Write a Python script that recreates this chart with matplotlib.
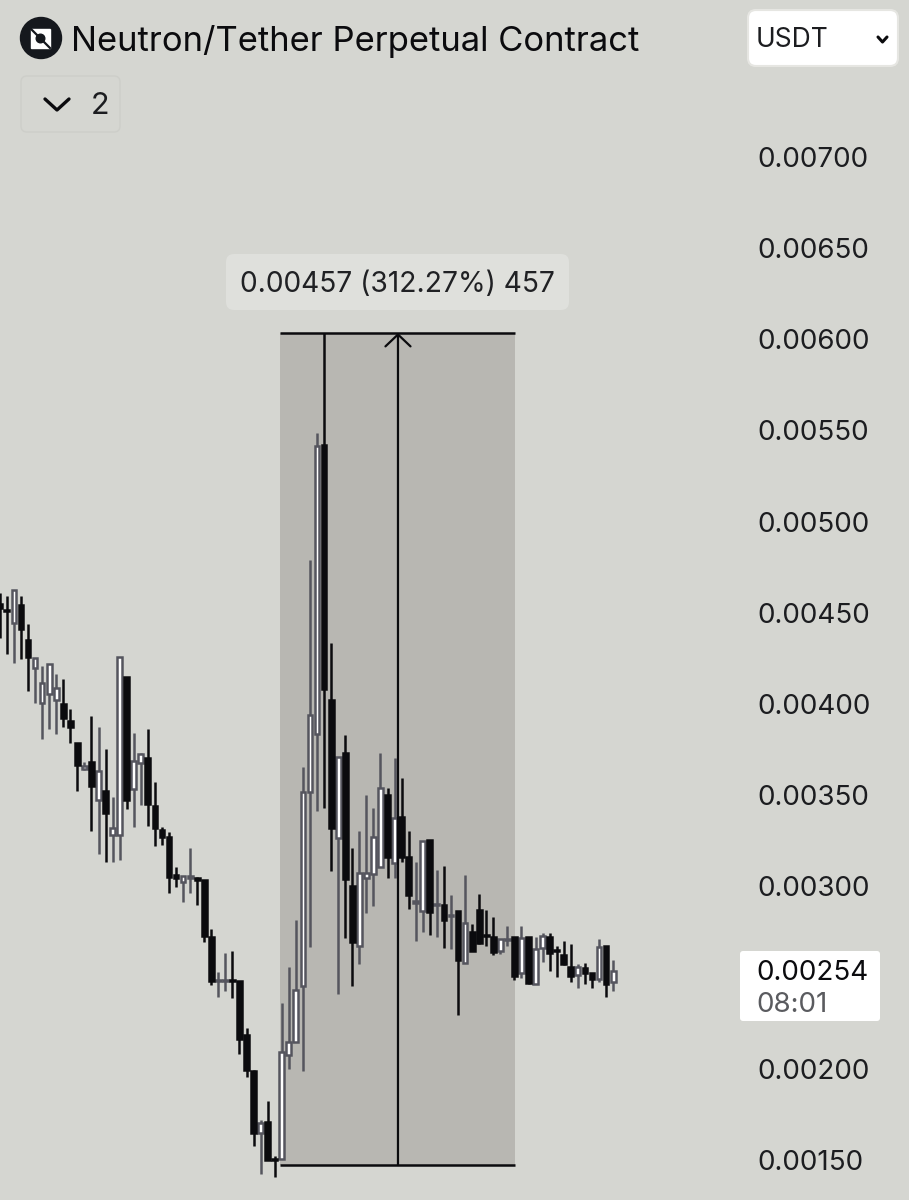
#!/usr/bin/env python

import numpy as np
import matplotlib
matplotlib.use("Agg")
import matplotlib.pyplot as plt
from matplotlib.patches import Circle, FancyBboxPatch, Polygon

# prices, in millionths of a USDT
open_ = [4548, 4515, 4444, 4543, 4351, 4197, 4005, 4055, 4022, 4000, 3907, 3786, 3643, 3682, 3474, 3523, 3282, 3282, 4148, 3534, 3676, 3704,
         3441, 3309, 3271, 3062, 3024, 3046, 3046, 3035, 2722, 2481, 2481, 2487, 2481, 2185, 1988, 1648, 1708, 1505, 1505, 2076, 2147, 2454,
         3517, 3835, 5420, 4022, 3265, 3731, 3002, 2673, 3046, 3068, 3106, 3501, 3128, 3380, 3161, 2909, 2865, 3254, 2898, 2898, 2838, 2865,
         2580, 2750, 2871, 2733, 2722, 2646, 2706, 2722, 2525, 2722, 2465, 2662, 2722, 2651, 2624, 2558, 2514, 2553, 2525, 2492, 2673, 2476]
close = [4526, 4510, 4625, 4411, 4257, 4252, 4115, 4219, 4088, 3923, 3874, 3665, 3660, 3550, 3632, 3402, 3320, 4257, 3474, 3687, 3726, 3452,
         3320, 3271, 3051, 3046, 3057, 3057, 3035, 2728, 2481, 2487, 2487, 2481, 2163, 1993, 1648, 1703, 1500, 1503, 2092, 2147, 2432, 3517,
         3939, 5414, 4082, 3320, 3709, 3040, 2695, 3073, 3073, 3271, 3539, 3161, 3375, 3161, 2953, 2920, 3249, 2860, 2903, 2816, 2843, 2596,
         2799, 2646, 2690, 2728, 2640, 2712, 2712, 2509, 2717, 2470, 2657, 2728, 2635, 2646, 2574, 2509, 2558, 2525, 2492, 2668, 2465, 2536]
high = [4608, 4592, 4625, 4592, 4438, 4252, 4208, 4219, 4164, 4137, 3972, 3786, 3682, 3934, 3874, 3753, 3490, 4257, 4148, 3841, 3731, 3863,
        3572, 3326, 3298, 3106, 3057, 3210, 3051, 3035, 2766, 2531, 2635, 2646, 2481, 2224, 1993, 1719, 1823, 1522, 2361, 2558, 2816, 3654,
        4789, 5485, 6034, 4334, 3709, 3830, 3210, 3304, 3501, 3430, 3731, 3539, 3704, 3594, 3304, 3134, 3249, 3254, 3090, 3112, 2953, 2865,
        3062, 2794, 2958, 2871, 2832, 2712, 2783, 2722, 2783, 2722, 2722, 2744, 2744, 2673, 2701, 2684, 2574, 2580, 2525, 2712, 2673, 2596]
low = [4362, 4274, 4225, 4246, 4071, 4005, 3808, 3863, 3835, 3874, 3786, 3523, 3638, 3304, 3177, 3134, 3134, 3145, 3424, 3326, 3446, 3331,
       3221, 3227, 2964, 2997, 2914, 2964, 2898, 2695, 2459, 2394, 2426, 2388, 2081, 1955, 1577, 1423, 1500, 1407, 1505, 1999, 2147, 1988,
       2668, 3413, 3430, 3084, 2410, 2717, 2454, 2574, 2854, 2892, 3106, 3046, 3046, 3134, 2876, 2701, 2750, 2733, 2722, 2662, 2657, 2295,
       2580, 2646, 2684, 2673, 2624, 2629, 2673, 2487, 2498, 2465, 2465, 2585, 2536, 2503, 2569, 2476, 2443, 2465, 2443, 2476, 2394, 2426]

tick_values = [0.0015, 0.002, 0.003, 0.0035, 0.004, 0.0045, 0.005, 0.0055, 0.006, 0.0065, 0.007]
tick_labels = ["0.00150", "0.00200", "0.00300", "0.00350", "0.00400", "0.00450", "0.00500", "0.00550", "0.00600", "0.00650", "0.00700"]

range_low = 0.001473
range_high = 0.006034
range_start = 39.75
range_end = 73.08
range_mid = 56.48

title = "Neutron/Tether Perpetual Contract"
range_label = "0.00457 (312.27%) 457"
last_price = "0.00254"
countdown = "08:01"

BG = "#d5d6d1"
RANGE_FILL = "#b8b7b2"
UP_EDGE = "#55555e"
DARK = "#0b0b0e"

plt.rcParams["font.family"] = ["Inter", "DejaVu Sans"]

fig = plt.figure(figsize=(9.09, 12), dpi=100, facecolor=BG)

# chart area stops where the price labels start
ax = fig.add_axes([0, 0, 748 / 909, 1], facecolor=BG)
ax.set_xlim(0.028, 106.13)
ax.set_ylim(0.001281, 0.007859)
for s in ax.spines.values():
    s.set_visible(False)
ax.set_xticks([])
ax.yaxis.tick_right()
ax.set_yticks(tick_values)
ax.set_yticklabels(tick_labels)
ax.tick_params(axis="y", length=0, pad=7, labelsize=20, labelcolor="#1c1d20")

o = np.array(open_) * 1e-6
c = np.array(close) * 1e-6
h = np.array(high) * 1e-6
l = np.array(low) * 1e-6
x = np.arange(len(o))
up = c >= o

ax.fill_between([range_start, range_end], range_low, range_high, color=RANGE_FILL, lw=0, zorder=1)

ax.vlines(x[up], l[up], h[up], color=UP_EDGE, lw=1.8, zorder=2)
ax.vlines(x[~up], l[~up], h[~up], color=DARK, lw=1.8, zorder=2)
ax.bar(x[up], (c - o)[up], bottom=o[up], width=0.68, facecolor="white", edgecolor=UP_EDGE, lw=1.8, zorder=3)
ax.bar(x[~up], (o - c)[~up], bottom=c[~up], width=0.68, facecolor=DARK, edgecolor=DARK, lw=1.8, zorder=3)

ax.hlines([range_low, range_high], range_start, range_end, color=DARK, lw=1.8, zorder=4)
ax.annotate("", xy=(range_mid, range_high), xytext=(range_mid, range_low), zorder=4,
            arrowprops=dict(arrowstyle="->,head_length=0.39,head_width=0.41", color=DARK, lw=1.6,
                            shrinkA=0, shrinkB=0, mutation_scale=22))

# everything that is not the chart, placed in pixels
ui = fig.add_axes([0, 0, 1, 1])
ui.set_xlim(0, 909)
ui.set_ylim(1200, 0)
ui.axis("off")


def box(x0, y0, x1, y1, face, edge="none", r=6, lw=1):
    ui.add_patch(FancyBboxPatch((x0 + r, y0 + r), x1 - x0 - 2 * r, y1 - y0 - 2 * r,
                                boxstyle="round,pad=%d,rounding_size=%d" % (r, r),
                                facecolor=face, edgecolor=edge, lw=lw))


# logo
ui.add_patch(Circle((41, 38), 20.5, color="#15181d"))
ui.add_patch(Polygon([(31, 29), (50, 29), (50, 48), (31, 48)], color="white"))
ui.plot([31, 50], [29, 48], color="#15181d", lw=1.6)
ui.add_patch(Circle((40.5, 38.5), 4.3, color="#15181d"))

ui.text(71, 41, title, fontsize=24.9, color=DARK, va="center", ha="left")

box(21, 76, 120, 132, "none", edge="#cdcec9")
ui.plot([45, 57, 69], [99, 110, 99], color=DARK, lw=2.4, solid_capstyle="round", solid_joinstyle="round")
ui.text(100, 106, "2", fontsize=22, color="#1c1d20", va="center", ha="center")

box(748, 10, 898, 66, "white", edge="#e6e6e2", r=8, lw=1.5)
ui.text(756, 40, "USDT", fontsize=19, color="#1c1d20", va="center", ha="left")
ui.plot([878, 882.5, 887], [37, 42, 37], color=DARK, lw=2.2, solid_capstyle="round", solid_joinstyle="round")

box(226, 254, 569, 310, "#dfe0dc", r=8)
ui.text(397.5, 285, range_label, fontsize=20.3, color="#202124", va="center", ha="center")

box(740, 951, 880, 1021, "white", r=3)
ui.text(756.5, 973, last_price, fontsize=20, color=DARK, va="center", ha="left")
ui.text(756.5, 1005, countdown, fontsize=20, color="#5a5b5f", va="center", ha="left")

fig.savefig("out.png", dpi=100, facecolor=BG)
